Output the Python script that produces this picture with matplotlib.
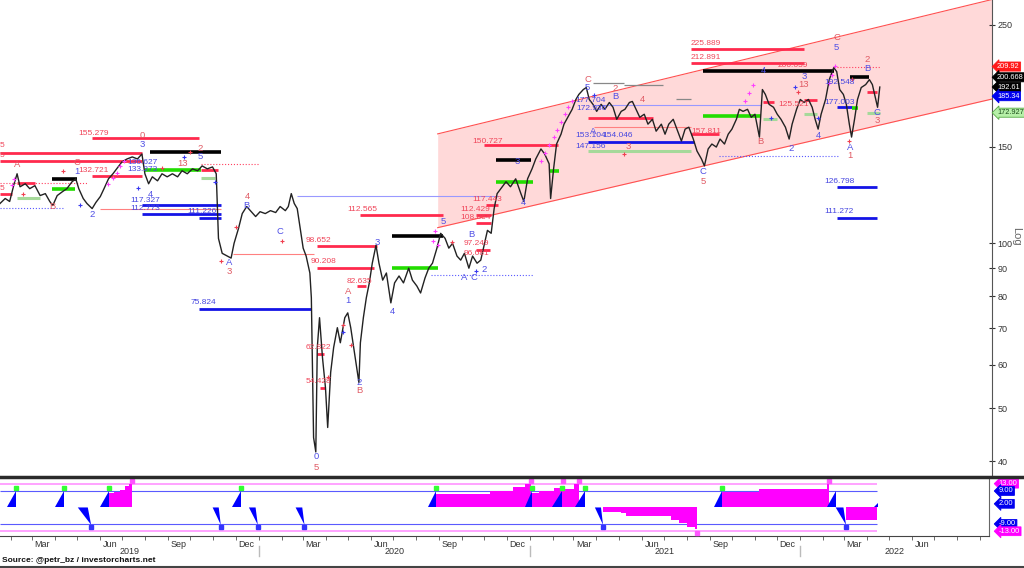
import datetime as dt

import matplotlib

matplotlib.use("Agg")
import matplotlib.dates as mdates
import matplotlib.pyplot as plt
from matplotlib.lines import Line2D
from matplotlib.patches import Polygon
from matplotlib.ticker import NullLocator
from matplotlib.transforms import blended_transform_factory
import numpy as np

plt.rcParams["font.family"] = ["Liberation Sans", "DejaVu Sans"]

T0 = mdates.date2num(dt.datetime(2019, 1, 17))  # all "day" values are days after this date
X_END = 1335

# ---- price path (days after T0, close) ----
px_day = [
    0, 7, 13, 19, 23, 27, 34, 40, 47, 54,
    61, 67, 71, 77, 84, 90, 97, 102, 106, 112,
    117, 124, 129, 135, 140, 146, 152, 159, 164, 171,
    178, 185, 191, 195, 200, 205, 212, 218, 225, 232,
    239, 245, 252, 259, 266, 272, 279, 286, 291, 294,
    299, 306, 311, 315, 321, 326, 332, 337, 344, 350,
    357, 364, 371, 377, 384, 388, 392, 396, 400, 404,
    408, 412, 417, 419, 422, 425, 427, 430, 434, 438,
    441, 445, 449, 454, 458, 464, 468, 472, 476, 480,
    483, 485, 489, 493, 497, 501, 506, 510, 515, 520,
    526, 531, 537, 543, 550, 555, 561, 566, 572, 577,
    582, 588, 593, 599, 604, 609, 615, 620, 625, 631,
    636, 642, 647, 652, 656, 661, 665, 669, 674, 681,
    687, 694, 701, 705, 710, 716, 721, 728, 733, 739,
    741, 745, 749, 755, 759, 764, 770, 775, 779, 785,
    789, 793, 798, 803, 809, 814, 820, 825, 830, 836,
    841, 847, 851, 856, 861, 867, 872, 878, 883, 890,
    895, 900, 906, 911, 917, 922, 927, 933, 938, 944,
    948, 953, 958, 964, 969, 975, 980, 985, 991, 995,
    1000, 1006, 1011, 1016, 1022, 1026, 1030, 1035, 1041, 1046,
    1051, 1057, 1062, 1066, 1072, 1077, 1082, 1088, 1093, 1097,
    1101, 1105, 1111, 1116, 1122, 1126, 1130, 1135, 1139, 1143,
    1146, 1150, 1154, 1159, 1165, 1170, 1174, 1177, 1181, 1184,
]
px_close = [
    118.1, 120.6, 119.1, 128.3, 133.8, 126.7, 128.3, 125.7, 127.3, 122.1,
    123.1, 119.1, 117.1, 122.1, 124.1, 125.7, 129.4, 131.0, 125.7, 120.6,
    118.1, 115.6, 118.6, 121.6, 125.7, 131.0, 133.8, 137.7, 140.6, 142.4,
    143.6, 142.4, 145.4, 133.8, 128.3, 132.1, 129.9, 133.8, 132.1, 133.8,
    132.1, 135.5, 133.8, 136.6, 135.5, 138.3, 136.6, 137.7, 133.8, 102.0,
    95.8, 94.7, 93.9, 99.9, 106.4, 113.2, 116.6, 114.6, 111.8, 114.1,
    113.2, 114.6, 113.7, 116.6, 114.6, 116.6, 123.1, 118.1, 115.6, 106.4,
    97.9, 94.7, 88.2, 79.5, 44.2, 41.6, 64.5, 73.1, 61.8, 54.5,
    46.1, 58.1, 64.5, 70.1, 65.8, 73.1, 74.6, 70.1, 64.5, 59.3,
    55.7, 65.8, 73.1, 79.5, 84.6, 91.9, 99.1, 91.9, 85.6, 88.2,
    77.8, 84.6, 87.1, 84.6, 90.0, 85.6, 83.5, 81.1, 86.4, 90.0,
    91.9, 97.9, 104.2, 102.0, 97.9, 99.9, 94.7, 93.1, 95.8, 90.0,
    94.7, 91.9, 93.1, 99.9, 105.5, 104.2, 115.6, 123.1, 125.7, 129.4,
    126.7, 131.0, 123.1, 119.1, 131.0, 136.6, 142.4, 148.5, 145.4, 139.5,
    120.6, 136.6, 151.6, 158.0, 164.8, 169.6, 175.4, 182.8, 186.7, 190.6,
    192.2, 182.8, 179.1, 173.9, 179.1, 175.4, 180.5, 176.9, 168.2, 173.9,
    175.4, 180.5, 181.3, 175.4, 169.6, 171.8, 164.8, 168.2, 160.0, 164.8,
    158.0, 164.8, 168.2, 161.4, 153.5, 161.4, 162.7, 154.8, 147.2, 142.4,
    138.3, 148.5, 151.6, 149.7, 154.8, 151.6, 158.0, 161.4, 168.2, 175.4,
    173.9, 175.4, 169.6, 171.8, 156.1, 190.6, 186.7, 179.1, 176.9, 171.8,
    168.2, 162.7, 154.8, 164.8, 175.4, 182.8, 180.5, 182.8, 176.9, 168.2,
    161.4, 171.8, 182.8, 198.7, 208.9, 205.5, 190.6, 186.7, 179.1, 164.8,
    156.1, 168.2, 182.8, 192.2, 194.6, 198.7, 194.6, 186.7, 176.9, 192.6,
]

# ---- trend channel ----
ch_day = [589, 1337]
ch_upper = [158.2, 278.6]
ch_lower = [106.7, 183.4]

# ---- horizontal levels: (start day, end day, price) ----
red_lines = [(124, 268, 155.279), (0, 191, 146.3), (0, 191, 141.0), (0, 16, 123.0),
             (124, 191, 132.721), (484, 596, 112.565), (426, 507, 98.652), (426, 503, 90.208),
             (481, 493, 83.5), (426, 436, 62.822), (430, 438, 54.428), (651, 751, 150.727),
             (654, 670, 117.443), (640, 661, 112.429), (640, 661, 108.854), (640, 660, 97.249),
             (930, 1082, 225.889), (930, 1082, 212.891), (930, 967, 157.811),
             (23, 47, 128.8), (270, 293, 136.2), (791, 879, 168.9), (1027, 1041, 180.6),
             (1082, 1099, 182.1), (1167, 1180, 189.0)]
blue_lines = [(191, 297, 117.327), (191, 297, 112.773), (268, 297, 111.226), (268, 418, 75.824),
              (791, 934, 153.104), (1127, 1180, 126.798), (1127, 1180, 111.272), (1127, 1146, 177.003)]
black_lines = [(70, 104, 131.0), (202, 297, 146.8), (528, 596, 103.0), (667, 714, 142.0),
               (946, 1122, 206.039), (1144, 1169, 200.668)]
green_lines = [(70, 101, 125.3), (195, 270, 136.2), (528, 589, 90.0), (667, 717, 129.4),
               (739, 752, 135.5), (946, 1024, 170.809), (1146, 1154, 176.1)]
pale_green_lines = [(23, 54, 121.1), (270, 290, 131.6), (791, 930, 147.156), (1027, 1045, 168.2),
                    (1082, 1099, 171.8), (1167, 1184, 172.927)]
thin_red_lines = [(313, 422, 95.4), (135, 297, 115.6), (799, 930, 163.0)]
thin_blue_lines = [(400, 670, 122.1), (799, 1024, 178.5)]
grey_lines = [(798, 840, 196.0), (840, 892, 194.5), (910, 930, 183.0)]
dotted_blue_lines = [(580, 718, 87.3), (968, 1128, 144.2), (0, 85, 116.0)]
dotted_red_lines = [(270, 348, 139.5), (1123, 1184, 209.92), (0, 117, 128.9)]

# ---- level labels: (day, price, text) ----
red_labels = [(106, 158.2, "155.279"), (106, 135.5, "132.721"), (468, 115.1, "112.565"),
              (411, 101.1, "98.652"), (418, 92.7, "90.208"), (466, 85.0, "82.635"),
              (411, 64.5, "62.822"), (411, 55.9, "54.428"), (636, 153.5, "150.727"),
              (636, 120.1, "117.443"), (620, 115.1, "112.429"), (620, 111.3, "108.854"),
              (624, 100.0, "97.249"), (624, 95.8, "96.081"), (930, 231.4, "225.889"),
              (930, 218.3, "212.891"), (930, 160.1, "157.811"), (1047, 179.1, "125.521"),
              (1047, 210.6, "206.039"), (0, 150.4, "5"), (0, 144.4, "5"), (0, 125.7, "5")]
blue_labels = [(175, 119.6, "117.327"), (175, 115.6, "112.773"), (252, 114.3, "111.226"),
               (256, 77.8, "75.824"), (171, 140.0, "136.627"), (171, 136.0, "133.373"),
               (774, 157.4, "153.104"), (810, 157.4, "154.046"), (774, 150.3, "147.156"),
               (774, 181.8, "177.704"), (776, 176.1, "172.936"), (1109, 129.4, "126.798"),
               (1109, 114.3, "111.272"), (1109, 180.5, "177.003"), (1109, 196.7, "192.548")]

# ---- wave counts: (day, price, text) ----
red_waves = [(23, 138.9, "A"), (70, 116.6, "B"), (104, 140.0, "C"), (191, 157.4, "0"),
             (270, 148.5, "2"), (333, 121.6, "4"), (309, 88.9, "3"), (468, 81.5, "A"),
             (483, 53.9, "B"), (426, 39.0, "5"), (791, 198.7, "C"), (828, 191.4, "2"),
             (864, 182.6, "4"), (845, 150.3, "3"), (946, 129.4, "5"), (1023, 153.5, "B"),
             (1126, 237.4, "C"), (1144, 144.2, "1"), (1167, 215.9, "2"), (1180, 167.5, "3"),
             (245, 139.5, "13"), (1082, 194.6, "13")]
blue_waves = [(104, 135.0, "1"), (124, 112.8, "2"), (191, 151.6, "3"), (270, 143.6, "5"),
              (202, 122.6, "4"), (332, 117.1, "B"), (309, 92.3, "A"), (377, 105.1, "C"),
              (426, 40.8, "0"), (468, 78.5, "1"), (483, 55.7, "2"), (507, 100.3, "3"),
              (528, 75.0, "4"), (597, 109.5, "5"), (634, 103.8, "B"), (624, 86.7, "A"),
              (638, 86.4, "C"), (652, 89.6, "2"), (696, 140.6, "3"), (705, 118.6, "4"),
              (790, 192.2, "5"), (828, 185.0, "B"), (798, 160.0, "A"), (946, 134.9, "C"),
              (1027, 206.3, "4"), (1082, 201.1, "3"), (1065, 148.5, "2"), (1101, 157.4, "4"),
              (1126, 227.3, "5"), (1144, 149.7, "A"), (1167, 208.1, "B"), (1180, 173.2, "C")]

# small count marks
red_plus = [(85, 135.5), (31, 122.7), (218, 137.2), (297, 92.7), (379, 100.8), (317, 107.1),
            (256, 146.7), (461, 71.0), (472, 65.3), (441, 56.9), (608, 100.6), (840, 145.6),
            (1074, 188.3), (1146, 199.3), (1142, 153.8)]
blue_plus = [(108, 117.5), (247, 143.6), (290, 129.4), (186, 126.2), (461, 68.7), (1070, 192.8),
             (1101, 169.3), (1038, 169.3), (799, 186.0), (640, 89.0)]
magenta_plus = [(16, 127.8), (19, 131.0), (146, 128.0), (152, 131.5), (157, 134.5), (162, 138.0),
                (167, 141.0), (583, 101.0), (586, 105.0), (589, 99.0), (728, 141.0), (733, 146.0),
                (739, 151.0), (745, 156.0), (750, 161.0), (755, 166.0), (760, 172.0), (765, 177.0),
                (770, 182.0), (1003, 182.0), (1008, 188.0), (1013, 194.0), (1116, 196.0),
                (1120, 203.0), (1124, 210.0)]

# ---- right price badges ----
badge_price = [209.92, 200.668, 192.61, 185.34, 172.927]
badge_text = ["209.92", "200.668", "192.61", "185.34", "172.927"]
badge_color = ["#ff1a1a", "#000000", "#000000", "#0000ee", "#b6f0a8"]

# ---- indicator panel ----
mag_start = [147, 154, 162, 169, 174, 589, 661, 692, 708, 718, 728, 748, 758, 775,
             814, 838, 845, 906, 917, 927, 938, 975, 1024, 1116, 1142]
mag_end = [154, 162, 169, 174, 178, 661, 692, 708, 717, 728, 748, 760, 775, 781,
           838, 845, 906, 917, 927, 938, 941, 1024, 1116, 1119, 1184]
mag_value = [7.8, 8.5, 9.6, 11.5, 13.0, 7.4, 9.0, 11.0, 13.0, 8.1, 8.8, 10.6, 10.0, 13.0,
             -2.3, -3.0, -4.6, -6.8, -8.7, -10.5, -12.0, 8.7, 10.0, 13.0, -6.8]
up_start = [9, 74, 135, 313, 578, 708, 745, 776, 964, 1116]
up_end = [22, 86, 147, 325, 589, 718, 758, 789, 975, 1128]
down_start = [105, 287, 336, 399, 803, 1128]
down_end = [123, 298, 348, 411, 814, 1142]
done_plus = [178, 717, 760, 781, 1119]
done_minus = [941]
ind_end = 1184
ind_badge_value = [13, 9, 2, -9, -13]
ind_badge_text = ["13.00", "9.00", "2.00", "-9.00", "-13.00"]
ind_badge_color = ["#ff00ff", "#0000ee", "#0000ee", "#0000ee", "#ff00ff"]


def d(days):
    return T0 + np.asarray(days, dtype=float)


fig = plt.figure(figsize=(10.24, 5.68), dpi=100)
ax = fig.add_axes([0, 92 / 568, 992 / 1024, 476 / 568])
ax2 = fig.add_axes([0, 32 / 568, 989 / 1024, 58 / 568])

# main panel
ax.set_yscale("log")
ax.set_ylim(37.6, 277.6)
ax.set_xlim(T0, T0 + X_END)
ax.set_xticks([])
ax.yaxis.tick_right()
ticks = [40, 50, 60, 70, 80, 90, 100, 150, 250]
ax.set_yticks(ticks)
ax.set_yticklabels([str(t) for t in ticks])
ax.yaxis.set_minor_locator(NullLocator())
ax.tick_params(axis="y", direction="inout", length=4, width=0.8, labelsize=6.5, colors="#333333", pad=2)
for s in ["left", "top", "bottom"]:
    ax.spines[s].set_visible(False)
ax.spines["right"].set_color("#555555")

ax.fill_between(d(ch_day), ch_lower, ch_upper, color="#ffd9d9", lw=0, zorder=0)
ax.plot(d(ch_day), ch_upper, color="#ff5050", lw=0.8, zorder=1)
ax.plot(d(ch_day), ch_lower, color="#ff5050", lw=0.8, zorder=1)


def levels(rows, color, lw, ls="-", z=2):
    for a, b, p in rows:
        ax.plot(d([a, b]), [p, p], color=color, lw=lw, ls=ls, zorder=z, solid_capstyle="butt")


levels(thin_red_lines, "#ff8080", 0.8)
levels(thin_blue_lines, "#9999ff", 0.8)
levels(grey_lines, "#888888", 0.9)
levels(dotted_blue_lines, "#5a5aff", 0.8, ":")
levels(dotted_red_lines, "#ff4060", 0.8, ":")
levels(pale_green_lines, "#a6d99a", 2.2)
levels(red_lines, "#ff2a4d", 2.0)
levels(blue_lines, "#1414e6", 2.0)
levels(green_lines, "#22dd00", 2.6)
levels(black_lines, "#000000", 2.6)

ax.plot(d(px_day), px_close, color="#222222", lw=1.0, zorder=4)

for pts, c in [(red_plus, "#f04050"), (blue_plus, "#3a3af0"), (magenta_plus, "#ff40ff")]:
    xs, ys = zip(*pts)
    ax.plot(d(xs), ys, ls="none", marker="+", ms=3, mew=0.8, color=c, zorder=5)

for x, p, t in red_labels:
    ax.text(d(x), p, t, color="#f0465a", fontsize=6, ha="left", va="center", zorder=5)
for x, p, t in blue_labels:
    ax.text(d(x), p, t, color="#4646e0", fontsize=6, ha="left", va="center", zorder=5)
for x, p, t in red_waves:
    ax.text(d(x), p, t, color="#e05a64", fontsize=6.8, ha="center", va="center", zorder=5)
for x, p, t in blue_waves:
    ax.text(d(x), p, t, color="#5050e6", fontsize=6.8, ha="center", va="center", zorder=5)

tr = blended_transform_factory(ax.transAxes, ax.transData)
for p, t, c in zip(badge_price, badge_text, badge_color):
    tc = "#1a4d1a" if c == "#b6f0a8" else "white"
    ec = "#55aa44" if c == "#b6f0a8" else c
    ax.text(1.005, p, t, transform=tr, fontsize=5.3, color=tc, ha="left", va="center", clip_on=False,
            bbox=dict(boxstyle="larrow,pad=0.14", fc=c, ec=ec, lw=0.6), zorder=6)
fig.text(1016 / 1024, 1 - 236 / 568, "Log", rotation=270, fontsize=8, color="#666666", ha="center", va="center")

# indicator panel
ax2.set_xlim(T0, T0 + X_END)
ax2.set_ylim(-15.6, 16.1)
ax2.set_yticks([])
for s in ["left", "top"]:
    ax2.spines[s].set_visible(False)
ax2.spines["right"].set_color("#666666")
ax2.spines["bottom"].set_color("#444444")

ax2.hlines([13, -13], T0, d(ind_end), color="#ff9cff", lw=1.3, zorder=1)
ax2.hlines([9, -9], T0, d(ind_end), color="#5a5aff", lw=0.8, zorder=1)
ax2.bar(d(mag_start), mag_value, width=np.subtract(mag_end, mag_start), align="edge",
        color="#ff00ff", lw=0, zorder=2)
for a, b in zip(up_start, up_end):
    ax2.add_patch(Polygon([(d(a), 0), (d(b), 0), (d(b), 9)], closed=True, fc="#0000ff", ec="none", zorder=3))
for a, b in zip(down_start, down_end):
    ax2.add_patch(Polygon([(d(a), 0), (d(b) - 0.25 * (b - a), 0), (d(b), -9.5)], closed=True,
                          fc="#0000ff", ec="none", zorder=3))
ax2.add_patch(Polygon([(d(1180), 0), (d(1185), 0), (d(1185), 2.5)], closed=True, fc="#0000ff", ec="none", zorder=3))
ax2.plot(d(up_end[:-1]), [10.6] * (len(up_end) - 1), ls="none", marker="s", ms=2.5, color="#33ff33", zorder=4)
ax2.plot(d(down_end), [-10.6] * len(down_end), ls="none", marker="s", ms=2.5, color="#3333ff", zorder=4)
ax2.plot(d(done_plus), [14.6] * len(done_plus), ls="none", marker="s", ms=2.5, color="#ff55ff", zorder=4)
ax2.plot(d(done_minus), [-14.2] * len(done_minus), ls="none", marker="s", ms=2.5, color="#ff55ff", zorder=4)

tr2 = blended_transform_factory(ax2.transAxes, ax2.transData)
for v, t, c in zip(ind_badge_value, ind_badge_text, ind_badge_color):
    ax2.text(1.01, v, t, transform=tr2, fontsize=5.4, color="white", ha="left", va="center", clip_on=False,
             bbox=dict(boxstyle="larrow,pad=0.12", fc=c, ec=c, lw=0.6), zorder=6)

ax2.xaxis.set_minor_locator(mdates.MonthLocator())
ax2.xaxis.set_major_locator(mdates.MonthLocator(bymonth=[3, 6, 9, 12], bymonthday=15))
ax2.xaxis.set_major_formatter(mdates.DateFormatter("%b"))
ax2.tick_params(axis="x", which="major", length=0, labelsize=6.5, pad=3, colors="#333333")
ax2.tick_params(axis="x", which="minor", length=3, width=0.6, color="#555555")

trf = blended_transform_factory(ax2.transData, fig.transFigure)
years = [2019, 2020, 2021, 2022]
for y in years:
    a = max(mdates.date2num(dt.datetime(y, 1, 1)), T0)
    b = min(mdates.date2num(dt.datetime(y + 1, 1, 1)), T0 + X_END)
    fig.text((a + b) / 2, 1 - 551 / 568, str(y), transform=trf, fontsize=6.5, color="#333333",
             ha="center", va="center")
    if y > 2019:
        fig.add_artist(Line2D([a, a], [1 - 546 / 568, 1 - 556 / 568], transform=trf, color="#bbbbbb", lw=1))

fig.add_artist(Line2D([0, 1022 / 1024], [1 - 476.5 / 568] * 2, color="#2b2b2b", lw=2.5))
fig.add_artist(Line2D([0, 1], [1 - 566.5 / 568] * 2, color="#444444", lw=1.5))
fig.text(2 / 1024, 1 - 561 / 568, "Source: @petr_bz / investorcharts.net", fontsize=6, fontweight="bold",
         color="#111111", ha="left", va="center")

fig.savefig("out.png", dpi=100)
